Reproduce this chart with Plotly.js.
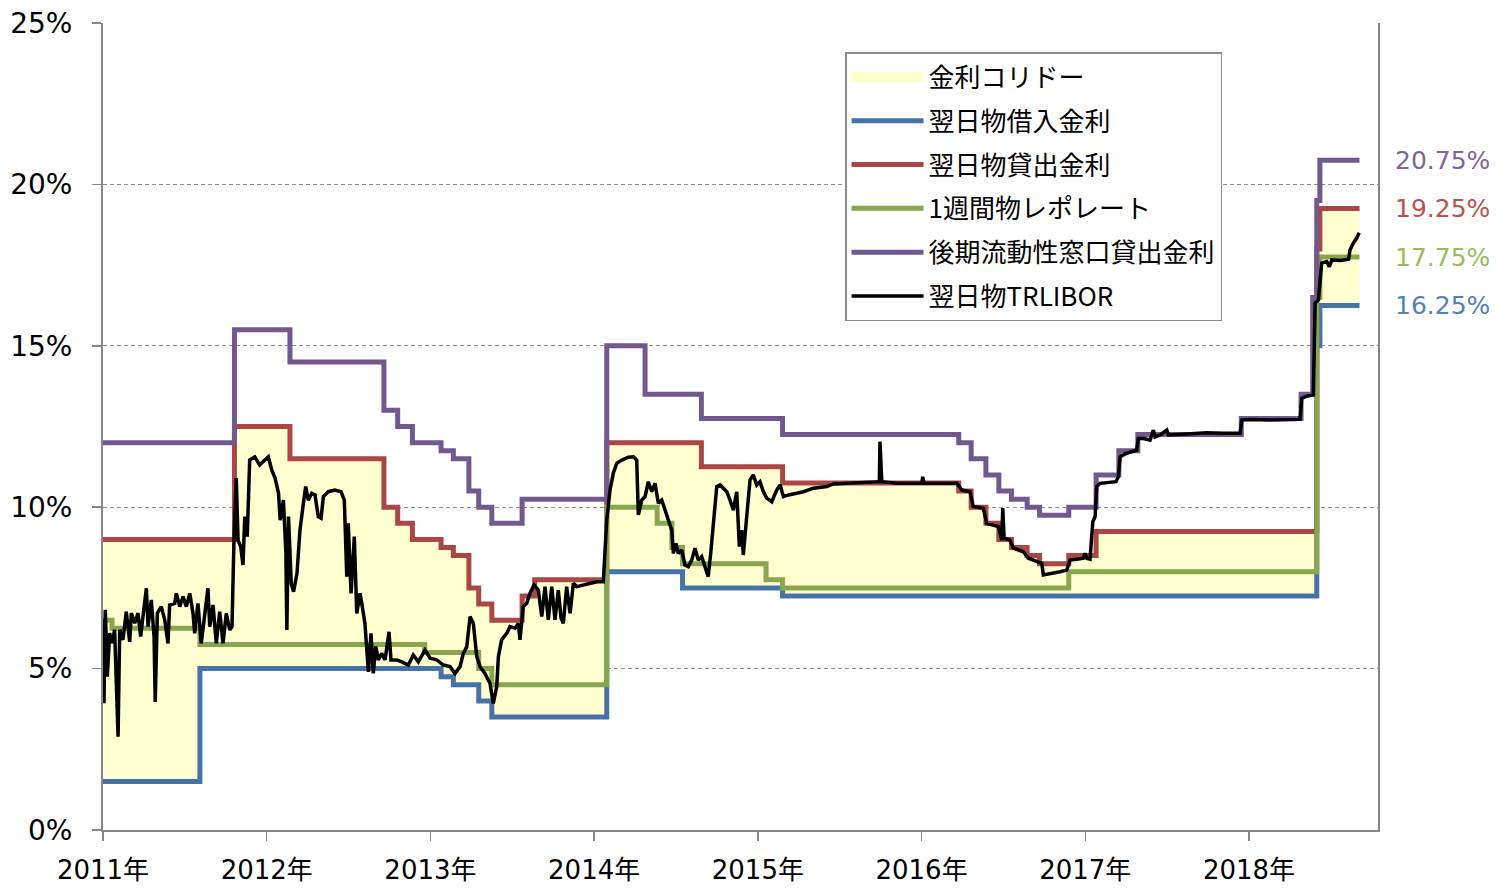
<!DOCTYPE html>
<html>
<head>
<meta charset="utf-8">
<script src="https://cdn.plot.ly/plotly-3.0.1.min.js"></script>
<style>html,body{margin:0;padding:0;background:#fff;}#chart{width:1499px;height:888px;}</style>
</head>
<body>
<div id="chart"></div>
<script>
// ---- Data (x = decimal year, y = %) ----
const yearTicks = [2011, 2012, 2013, 2014, 2015, 2016, 2017, 2018];
const yearLabels = ["2011年", "2012年", "2013年", "2014年", "2015年", "2016年", "2017年", "2018年"];

const seriesNames = ["金利コリドー", "翌日物借入金利", "翌日物貸出金利", "1週間物レポレート", "後期流動性窓口貸出金利", "翌日物TRLIBOR"];

// 翌日物借入金利 (overnight borrowing)
const borrowX = [2011.0, 2011.592, 2013.065, 2013.14, 2013.295, 2013.375, 2014.077, 2014.54, 2015.151, 2018.414, 2018.433, 2018.675];
const borrowY = [1.5, 5.0, 4.75, 4.5, 4.0, 3.5, 8.0, 7.5, 7.25, 15.0, 16.25, 16.25];

// 翌日物貸出金利 (overnight lending)
const lendX = [2011.0, 2011.803, 2012.142, 2012.716, 2012.80, 2012.89, 2013.065, 2013.14, 2013.235, 2013.295, 2013.375, 2013.56, 2013.637, 2014.077, 2014.655, 2015.151, 2016.227, 2016.303, 2016.393, 2016.472, 2016.549, 2016.645, 2016.721, 2016.899, 2017.066, 2018.414, 2018.433, 2018.675];
const lendY = [9.0, 12.5, 11.5, 10.0, 9.5, 9.0, 8.75, 8.5, 7.5, 7.0, 6.5, 7.25, 7.75, 12.0, 11.25, 10.75, 10.5, 10.0, 9.5, 9.0, 8.75, 8.5, 8.25, 8.5, 9.25, 18.0, 19.25, 19.25];

// 1週間物レポレート (one-week repo)
const repoX = [2011.0, 2011.055, 2011.592, 2012.965, 2013.295, 2013.375, 2014.077, 2014.385, 2014.475, 2014.54, 2015.05, 2015.151, 2016.899, 2018.414, 2018.433, 2018.675];
const repoY = [6.5, 6.25, 5.75, 5.5, 5.0, 4.5, 10.0, 9.5, 8.75, 8.25, 7.75, 7.5, 8.0, 16.5, 17.75, 17.75];

// 後期流動性窓口貸出金利 (late liquidity window)
const llwX = [2011.0, 2011.803, 2012.142, 2012.716, 2012.80, 2012.89, 2013.065, 2013.14, 2013.235, 2013.295, 2013.375, 2013.56, 2014.077, 2014.311, 2014.655, 2015.151, 2016.227, 2016.303, 2016.393, 2016.472, 2016.549, 2016.645, 2016.721, 2016.899, 2017.066, 2017.205, 2017.321, 2017.953, 2018.318, 2018.389, 2018.414, 2018.433, 2018.675];
const llwY = [12.0, 15.5, 14.5, 13.0, 12.5, 12.0, 11.75, 11.5, 10.5, 10.0, 9.5, 10.25, 15.0, 13.5, 12.75, 12.25, 12.0, 11.5, 11.0, 10.5, 10.25, 10.0, 9.75, 10.0, 11.0, 11.75, 12.25, 12.75, 13.5, 16.5, 19.5, 20.75, 20.75];

// 翌日物TRLIBOR
const liborX = [2011.000, 2011.006, 2011.014, 2011.026, 2011.041, 2011.055, 2011.071, 2011.092, 2011.102, 2011.122,
  2011.142, 2011.163, 2011.173, 2011.194, 2011.214, 2011.230, 2011.244, 2011.265, 2011.275, 2011.295,
  2011.312, 2011.319, 2011.332, 2011.356, 2011.377, 2011.397, 2011.407, 2011.438, 2011.448, 2011.469,
  2011.489, 2011.509, 2011.530, 2011.550, 2011.560, 2011.580, 2011.600, 2011.621, 2011.641, 2011.652,
  2011.672, 2011.692, 2011.713, 2011.733, 2011.753, 2011.774, 2011.788, 2011.800, 2011.814, 2011.825,
  2011.841, 2011.855, 2011.866, 2011.881, 2011.896, 2011.927, 2011.957, 2011.988, 2012.010, 2012.031,
  2012.051, 2012.072, 2012.082, 2012.102, 2012.117, 2012.123, 2012.133, 2012.150, 2012.164, 2012.185,
  2012.203, 2012.224, 2012.238, 2012.254, 2012.275, 2012.295, 2012.315, 2012.332, 2012.346, 2012.376,
  2012.417, 2012.454, 2012.474, 2012.489, 2012.498, 2012.515, 2012.535, 2012.550, 2012.570, 2012.584,
  2012.600, 2012.621, 2012.637, 2012.651, 2012.666, 2012.682, 2012.702, 2012.723, 2012.747, 2012.759,
  2012.794, 2012.825, 2012.865, 2012.895, 2012.926, 2012.967, 2012.998, 2013.038, 2013.079, 2013.120,
  2013.150, 2013.181, 2013.201, 2013.222, 2013.242, 2013.262, 2013.283, 2013.303, 2013.333, 2013.364,
  2013.384, 2013.405, 2013.415, 2013.435, 2013.466, 2013.486, 2013.517, 2013.537, 2013.547, 2013.567,
  2013.588, 2013.608, 2013.633, 2013.659, 2013.680, 2013.700, 2013.720, 2013.741, 2013.761, 2013.781,
  2013.798, 2013.812, 2013.832, 2013.853, 2013.873, 2013.894, 2013.934, 2013.975, 2014.016, 2014.056,
  2014.077, 2014.097, 2014.117, 2014.138, 2014.169, 2014.209, 2014.240, 2014.260, 2014.270, 2014.291,
  2014.311, 2014.331, 2014.352, 2014.372, 2014.392, 2014.413, 2014.433, 2014.453, 2014.474, 2014.484,
  2014.500, 2014.514, 2014.535, 2014.555, 2014.575, 2014.596, 2014.616, 2014.636, 2014.657, 2014.677,
  2014.697, 2014.712, 2014.728, 2014.749, 2014.769, 2014.789, 2014.810, 2014.830, 2014.850, 2014.871,
  2014.887, 2014.901, 2014.911, 2014.932, 2014.952, 2014.972, 2014.993, 2015.013, 2015.034, 2015.054,
  2015.085, 2015.115, 2015.136, 2015.156, 2015.187, 2015.237, 2015.278, 2015.339, 2015.421, 2015.461,
  2015.543, 2015.644, 2015.742, 2015.746, 2015.757, 2015.849, 2015.950, 2016.001, 2016.007, 2016.015,
  2016.113, 2016.215, 2016.246, 2016.296, 2016.316, 2016.377, 2016.398, 2016.469, 2016.490, 2016.496,
  2016.504, 2016.540, 2016.561, 2016.622, 2016.652, 2016.704, 2016.734, 2016.744, 2016.785, 2016.846,
  2016.887, 2016.907, 2016.948, 2016.988, 2016.998, 2017.009, 2017.029, 2017.046, 2017.060, 2017.070,
  2017.090, 2017.131, 2017.188, 2017.202, 2017.213, 2017.243, 2017.284, 2017.314, 2017.324, 2017.355,
  2017.396, 2017.416, 2017.426, 2017.457, 2017.498, 2017.508, 2017.620, 2017.742, 2017.844, 2017.946,
  2017.956, 2018.007, 2018.129, 2018.312, 2018.322, 2018.353, 2018.393, 2018.404, 2018.424, 2018.444,
  2018.475, 2018.491, 2018.506, 2018.557, 2018.608, 2018.617, 2018.637, 2018.657, 2018.673];
const liborY = [6.51, 3.93, 6.82, 4.75, 6.10, 5.79, 6.20, 2.89, 6.20, 5.89,
  6.76, 5.83, 6.72, 6.41, 6.72, 5.99, 6.61, 7.49, 6.30, 7.13,
  5.99, 3.97, 6.72, 6.92, 6.51, 5.78, 6.97, 7.02, 7.33, 6.92,
  7.23, 6.92, 7.33, 6.71, 6.09, 7.02, 5.78, 6.71, 7.49, 6.30,
  6.97, 5.78, 6.76, 5.78, 6.71, 6.20, 6.30, 8.98, 10.90, 8.98,
  8.78, 8.21, 9.71, 9.09, 11.46, 11.56, 11.31, 11.46, 11.56, 11.15,
  10.90, 10.44, 9.60, 10.22, 8.58, 6.20, 9.71, 7.64, 7.38, 7.95,
  9.29, 10.12, 10.64, 10.22, 10.43, 10.38, 9.71, 9.66, 10.33, 10.48,
  10.53, 10.48, 10.22, 7.85, 9.50, 7.33, 9.09, 6.71, 7.33, 6.92,
  6.40, 4.90, 6.09, 4.85, 5.68, 5.27, 5.47, 5.27, 6.14, 5.27,
  5.27, 5.21, 5.11, 5.42, 5.21, 5.58, 5.32, 5.27, 5.11, 5.06,
  4.85, 5.06, 5.47, 5.68, 6.61, 6.40, 5.37, 5.06, 4.85, 4.54,
  3.92, 4.44, 5.37, 5.89, 6.09, 6.30, 6.25, 6.40, 5.89, 6.92,
  7.02, 7.33, 7.59, 7.43, 6.61, 7.54, 6.51, 7.54, 6.51, 7.43,
  6.56, 6.40, 7.54, 6.71, 7.64, 7.54, 7.59, 7.64, 7.69, 7.69,
  9.60, 10.53, 11.05, 11.36, 11.46, 11.55, 11.56, 11.46, 9.76, 10.22,
  10.33, 10.79, 10.48, 10.74, 10.12, 10.22, 9.91, 9.60, 9.29, 8.57,
  8.88, 8.57, 8.67, 8.21, 8.16, 8.36, 8.73, 8.36, 8.47, 8.16,
  7.85, 8.57, 9.50, 10.64, 10.69, 10.59, 10.48, 10.22, 9.91, 10.48,
  8.78, 9.29, 8.52, 9.71, 10.84, 11.00, 10.69, 10.79, 10.48, 10.28,
  10.17, 10.53, 10.69, 10.33, 10.38, 10.43, 10.48, 10.59, 10.64, 10.72,
  10.74, 10.78, 10.79, 12.03, 10.79, 10.74, 10.74, 10.74, 10.94, 10.74,
  10.74, 10.74, 10.53, 10.48, 10.02, 9.97, 9.50, 9.40, 8.98, 9.97,
  9.04, 8.98, 8.73, 8.62, 8.42, 8.31, 8.26, 7.90, 7.93, 8.00,
  8.05, 8.36, 8.39, 8.42, 8.57, 8.42, 8.39, 9.55, 9.71, 10.64,
  10.74, 10.76, 10.79, 10.94, 11.56, 11.65, 11.72, 11.77, 12.13, 12.13,
  12.08, 12.39, 12.18, 12.24, 12.39, 12.24, 12.27, 12.31, 12.29, 12.29,
  12.70, 12.72, 12.70, 12.72, 13.37, 13.44, 13.48, 16.32, 16.42, 17.56,
  17.61, 17.45, 17.66, 17.64, 17.68, 17.97, 18.18, 18.33, 18.50];

// ---- Styles ----
const colBlue = "#4572A7", colRed = "#AA4643", colGreen = "#89A54E", colPurple = "#71588F";
const labBlue = "#4F81BD", labRed = "#C0504D", labGreen = "#9BBB59", labPurple = "#8064A2";
const corridorFill = "#FFFFD0";
const stepW = 5;

const traces = [
  {x: borrowX, y: borrowY, type: "scatter", mode: "lines", line: {shape: "hv", width: 0, color: "rgba(0,0,0,0)"},
   showlegend: false, hoverinfo: "skip"},
  {x: lendX, y: lendY, type: "scatter", mode: "lines", name: seriesNames[0], fill: "tonexty",
   fillcolor: corridorFill, line: {shape: "hv", width: 0, color: "rgba(0,0,0,0)"}, showlegend: false},
  // legend-only entry for the corridor (wide yellow swatch)
  {x: [null], y: [null], type: "scatter", mode: "lines", name: seriesNames[0],
   line: {width: 18, color: "#FFFFC8"}, legendgroup: "g0"},
  {x: borrowX, y: borrowY, type: "scatter", mode: "lines", name: seriesNames[1], line: {shape: "hv", width: stepW, color: colBlue}, legendgroup: "g1"},
  {x: lendX, y: lendY, type: "scatter", mode: "lines", name: seriesNames[2], line: {shape: "hv", width: stepW, color: colRed}, legendgroup: "g2"},
  {x: repoX, y: repoY, type: "scatter", mode: "lines", name: seriesNames[3], line: {shape: "hv", width: stepW, color: colGreen}, legendgroup: "g3"},
  {x: llwX, y: llwY, type: "scatter", mode: "lines", name: seriesNames[4], line: {shape: "hv", width: stepW, color: colPurple}, legendgroup: "g4"},
  {x: liborX, y: liborY, type: "scatter", mode: "lines", name: seriesNames[5], line: {width: 3.5, color: "#000000"}, legendgroup: "g5"}
];

const endLabels = [
  {v: llwY[llwY.length - 1], c: labPurple},
  {v: lendY[lendY.length - 1], c: labRed},
  {v: repoY[repoY.length - 1], c: labGreen},
  {v: borrowY[borrowY.length - 1], c: labBlue}
];
const annotations = endLabels.map(e => ({
  xref: "paper", yref: "y", x: 1.012, y: e.v, xanchor: "left", yanchor: "middle",
  text: e.v.toFixed(2) + "%", showarrow: false,
  font: {family: "DejaVu Sans, Verdana, sans-serif", size: 25, color: e.c}
}));

const layout = {
  width: 1499, height: 888,
  margin: {l: 103, r: 121, t: 23, b: 58, pad: 0},
  paper_bgcolor: "#ffffff", plot_bgcolor: "#ffffff",
  showlegend: true,
  legend: {
    x: 0.582, y: 0.9640, xanchor: "left", yanchor: "top",
    bgcolor: "#ffffff", bordercolor: "#8c8c8c", borderwidth: 1.5,
    font: {family: "Noto Sans CJK JP, sans-serif", size: 26, color: "#000"},
    tracegroupgap: 7, itemwidth: 72, traceorder: "grouped"
  },
  xaxis: {
    range: [2011, 2018.788], tickvals: yearTicks, ticktext: yearLabels,
    showgrid: false, zeroline: false, showline: true, linecolor: "#868686", linewidth: 2,
    ticks: "outside", ticklen: 9, tickcolor: "#868686", tickwidth: 1.5, ticklabelstandoff: 7,
    tickfont: {family: "DejaVu Sans, Noto Sans CJK JP, sans-serif", size: 26, color: "#000"}
  },
  yaxis: {
    range: [0, 25], dtick: 5, tick0: 0, ticksuffix: "%",
    showgrid: true, gridcolor: "#8c8c8c", gridwidth: 1, griddash: "4px,3px",
    zeroline: false, showline: true, mirror: true, linecolor: "#868686", linewidth: 2,
    ticks: "outside", ticklen: 9, tickcolor: "#868686", tickwidth: 1.5, ticklabelstandoff: 14,
    tickfont: {family: "DejaVu Sans, sans-serif", size: 28, color: "#000"}
  },
  annotations: annotations
};

Plotly.newPlot("chart", traces, layout, {staticPlot: true, displayModeBar: false});
</script>
</body>
</html>
